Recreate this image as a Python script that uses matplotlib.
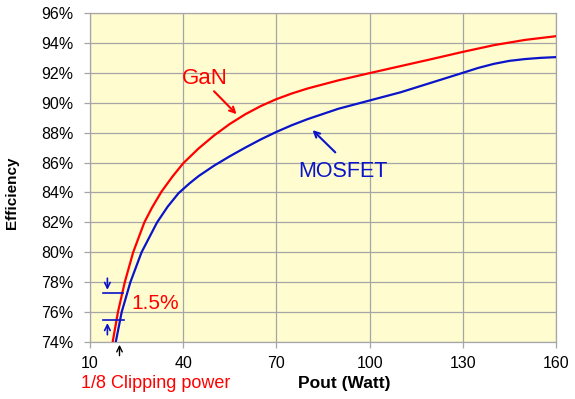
import matplotlib
matplotlib.use("Agg")
import matplotlib.pyplot as plt

plt.rcParams['font.family'] = ['Liberation Sans', 'DejaVu Sans']

# данные
gan_p = [17.3, 19.0, 21.2, 23.9, 27.5, 30, 33, 36.5, 40, 45, 50, 55, 60, 65, 70, 75, 80, 90, 100,
         110, 120, 130, 140, 150, 160]
gan_eff = [74.0, 76.0, 78.0, 80.0, 82.0, 83.0, 84.05, 85.05, 85.95, 86.95, 87.82, 88.58, 89.23, 89.78,
           90.24, 90.62, 90.95, 91.5, 91.98, 92.45, 92.92, 93.4, 93.85, 94.2, 94.45]
mos_p = [18.3, 20.2, 23.0, 26.6, 31.6, 35, 38.5, 42, 45, 50, 55, 60, 65, 70, 75, 80, 90, 100,
         110, 120, 130, 135, 140, 145, 150, 155, 160]
mos_eff = [74.0, 76.0, 78.0, 80.0, 82.0, 83.05, 83.95, 84.6, 85.1, 85.8, 86.42, 87.0, 87.55, 88.05, 88.5,
           88.9, 89.6, 90.15, 90.7, 91.35, 92.0, 92.33, 92.6, 92.8, 92.92, 93.0, 93.05]
x_ticks = [10, 40, 70, 100, 130, 160]
y_ticks = [74, 76, 78, 80, 82, 84, 86, 88, 90, 92, 94, 96]

red = '#FF0000'
blue = '#0A14C8'
grid_c = '#A6A6A6'

fig = plt.figure(figsize=(5.75, 3.99), dpi=100)
ax = fig.add_axes([0.1565, 0.1429, 0.8105, 0.8245])
ax.set_facecolor('#FFFCD0')

ax.plot(gan_p, gan_eff, color=red, lw=1.6, zorder=3, solid_joinstyle='round')
ax.plot(mos_p, mos_eff, color=blue, lw=1.6, zorder=3, solid_joinstyle='round')

ax.set_xlim(10, 160)
ax.set_ylim(74, 96)
ax.set_xticks(x_ticks)
ax.set_yticks(y_ticks)
ax.set_yticklabels([f'{v}%' for v in y_ticks])
ax.grid(True, color=grid_c, lw=0.9)
ax.set_axisbelow(True)
for s in ax.spines.values():
    s.set_color(grid_c)
    s.set_linewidth(0.9)
ax.tick_params(axis='both', colors=grid_c, length=4, width=0.9, labelsize=11.5, labelcolor='black')
ax.tick_params(axis='y', pad=8)
ax.tick_params(axis='x', pad=6)

# подписи
ax.text(47.1, 91.6, 'GaN', color=red, fontsize=16, ha='center', va='center')
ax.annotate('', xy=(57.8, 89.1), xytext=(49.3, 90.9),
            arrowprops=dict(arrowstyle='->', color=red, lw=1.5))
ax.text(91.3, 85.4, 'MOSFET', color=blue, fontsize=15.5, ha='center', va='center')
ax.annotate('', xy=(81.0, 88.3), xytext=(89.6, 86.55),
            arrowprops=dict(arrowstyle='->', color=blue, lw=1.5))
ax.text(31.0, 76.6, '1.5%', color=red, fontsize=15, ha='center', va='center')

ax.plot([14.2, 20.6], [77.27, 77.27], color=blue, lw=1.2, zorder=4)
ax.plot([14.2, 20.8], [75.48, 75.48], color=blue, lw=1.2, zorder=4)
ax.annotate('', xy=(15.6, 77.3), xytext=(15.6, 78.45),
            arrowprops=dict(arrowstyle='->', color=blue, lw=1.2))
ax.annotate('', xy=(15.6, 75.45), xytext=(15.6, 74.3),
            arrowprops=dict(arrowstyle='->', color=blue, lw=1.2))
ax.annotate('', xy=(19.5, 74.0), xytext=(19.5, 72.9), annotation_clip=False,
            arrowprops=dict(arrowstyle='->', color='black', lw=1.0))

fig.text(0.271, 0.04, '1/8 Clipping power', color=red, fontsize=13, ha='center', va='center')
fig.text(0.598, 0.0376, 'Pout (Watt)', fontsize=12.5, fontweight='bold', ha='center', va='center')
fig.text(0.021, 0.516, 'Efficiency', fontsize=11, fontweight='bold', rotation=90, ha='center', va='center')

fig.savefig('out.png', dpi=100, facecolor='white')
